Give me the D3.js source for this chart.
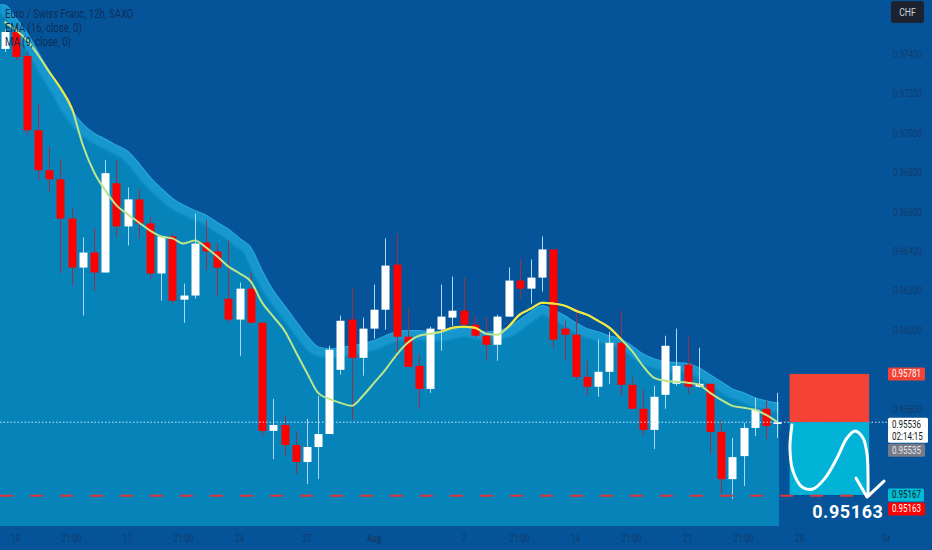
<!DOCTYPE html>
<html>
<head>
<meta charset="utf-8">
<script src="https://cdn.jsdelivr.net/npm/d3@7"></script>
<style>
html, body { margin: 0; padding: 0; background: #05549a; overflow: hidden; }
svg { display: block; }
text { font-family: Roboto, "Liberation Sans", sans-serif; }
</style>
</head>
<body>
<script>
// EUR/CHF 12h bars
var opens = [0.97431,0.97517,0.97395,0.97018,0.96815,0.96769,0.96570,0.96321,0.96397,0.96296,
  0.96749,0.96530,0.96667,0.96545,0.96291,0.96479,0.96158,0.96179,0.96448,0.96403,
  0.96163,0.96057,0.96214,0.96041,0.95492,0.95522,0.95420,0.95334,0.95410,0.95476,
  0.95802,0.96057,0.95863,0.96011,0.96107,0.96336,0.95970,0.95822,0.95705,0.96006,
  0.96067,0.96102,0.96031,0.95975,0.95929,0.96072,0.96255,0.96214,0.96270,0.96413,
  0.96011,0.95980,0.95766,0.95716,0.95792,0.95939,0.95726,0.95604,0.95497,0.95675,
  0.95731,0.95828,0.95716,0.95731,0.95487,0.95247,0.95364,0.95507,0.95604,0.95527];
var highs = [0.97532,0.97548,0.97415,0.97151,0.96937,0.96871,0.96621,0.96474,0.96520,0.96866,
  0.96866,0.96728,0.96723,0.96576,0.96479,0.96494,0.96240,0.96596,0.96560,0.96443,
  0.96459,0.96245,0.96296,0.96041,0.95654,0.95568,0.95487,0.95553,0.95670,0.95924,
  0.96077,0.96219,0.96067,0.96235,0.96469,0.96494,0.96118,0.95883,0.96021,0.96235,
  0.96275,0.96270,0.96077,0.96072,0.96082,0.96321,0.96367,0.96362,0.96479,0.96413,
  0.96051,0.96118,0.95848,0.95955,0.95995,0.96102,0.95766,0.95705,0.95721,0.95975,
  0.96011,0.95970,0.95914,0.95731,0.95548,0.95456,0.95532,0.95660,0.95644,0.95685];
var lows = [0.97415,0.97375,0.96993,0.96764,0.96703,0.96291,0.96230,0.96077,0.96204,0.96296,
  0.96474,0.96433,0.96469,0.96265,0.96153,0.96138,0.96041,0.96163,0.96306,0.96179,
  0.96041,0.95873,0.96041,0.95466,0.95349,0.95364,0.95273,0.95222,0.95247,0.95476,
  0.95777,0.95548,0.95772,0.95960,0.96006,0.95863,0.95817,0.95604,0.95685,0.95899,
  0.96026,0.96026,0.95965,0.95848,0.95848,0.96072,0.96163,0.96138,0.96199,0.95909,
  0.95848,0.95751,0.95670,0.95665,0.95731,0.95670,0.95604,0.95466,0.95400,0.95604,
  0.95721,0.95680,0.95710,0.95375,0.95176,0.95146,0.95212,0.95466,0.95451,0.95456];
var closes = [0.97517,0.97390,0.97018,0.96815,0.96769,0.96570,0.96321,0.96397,0.96296,0.96800,
  0.96530,0.96667,0.96545,0.96291,0.96479,0.96153,0.96179,0.96443,0.96403,0.96321,
  0.96057,0.96214,0.96041,0.95492,0.95522,0.95420,0.95334,0.95410,0.95476,0.95904,
  0.96051,0.95863,0.96011,0.96107,0.96331,0.95970,0.95817,0.95705,0.96011,0.96072,
  0.96102,0.96031,0.95975,0.95929,0.96072,0.96255,0.96214,0.96270,0.96413,0.95955,
  0.95980,0.95766,0.95716,0.95792,0.95939,0.95726,0.95604,0.95497,0.95665,0.95924,
  0.95822,0.95716,0.95731,0.95487,0.95247,0.95359,0.95507,0.95599,0.95517,0.95536];

// EMA cloud upper edge
var bandTop = [0.97654,0.97588,0.97512,0.97415,0.97313,0.97222,0.97120,0.97049,0.97003,0.96973,
  0.96942,0.96911,0.96850,0.96779,0.96723,0.96672,0.96637,0.96611,0.96586,0.96550,
  0.96515,0.96469,0.96423,0.96306,0.96204,0.96128,0.96051,0.95975,0.95919,0.95909,
  0.95914,0.95924,0.95934,0.95950,0.95975,0.95995,0.96001,0.96001,0.95995,0.95995,
  0.96006,0.96016,0.96006,0.95995,0.96001,0.96016,0.96056,0.96097,0.96128,0.96107,
  0.96077,0.96041,0.96011,0.95995,0.95975,0.95960,0.95924,0.95883,0.95858,0.95843,
  0.95838,0.95833,0.95812,0.95777,0.95741,0.95705,0.95685,0.95660,0.95644,0.95634];
// MA (9, close)
var ma9 = [0.97568,0.97527,0.97476,0.97400,0.97313,0.97232,0.97130,0.96942,0.96805,0.96713,
  0.96637,0.96591,0.96550,0.96509,0.96479,0.96469,0.96443,0.96459,0.96423,0.96377,
  0.96326,0.96291,0.96250,0.96143,0.96072,0.96001,0.95894,0.95787,0.95685,0.95654,
  0.95634,0.95619,0.95670,0.95736,0.95802,0.95878,0.95939,0.95975,0.95985,0.95995,
  0.96016,0.96021,0.96016,0.95985,0.95980,0.96021,0.96082,0.96112,0.96143,0.96138,
  0.96128,0.96102,0.96082,0.96051,0.96016,0.95960,0.95899,0.95822,0.95761,0.95746,
  0.95741,0.95736,0.95726,0.95685,0.95649,0.95619,0.95609,0.95599,0.95573,0.95537];

var timeTicks = [1, 6, 11, 16, 21, 27, 33, 41, 46, 51, 56, 61, 66, 71, 79];
var timeLabels = ["10","21:00","17","21:00","24","27","Aug","7","21:00","14","21:00","21","21:00","28","Sep"];
var priceTicks = [0.952,0.954,0.956,0.958,0.960,0.962,0.964,0.966,0.968,0.970,0.972,0.974,0.976];
var legendLines = ["Euro / Swiss Franc, 12h, SAXO", "EMA (16, close, 0)", "MA (9, close, 0)"];

// short position tool
var entryPrice = 0.95536, stopPrice = 0.95781, targetPrice = 0.95167, rayPrice = 0.95163;
var boxFrom = 70.1, boxTo = 77.2;
var countdown = "02:14:15";
var prevClose = 0.95535;

// hand drawn wave + arrow (bar index, price)
var noteIdx = [70.31,70.13,70.40,71.21,72.19,73.26,74.33,75.22,75.94,76.65,77.01,77.10,77.10];
var notePrice = [0.95522,0.95405,0.95288,0.95207,0.95197,0.95252,0.95354,0.95456,0.95492,0.95456,0.95375,0.95252,0.95161];
var arrowIdx = [76.03, 77.01, 78.53];
var arrowPrice = [0.95252, 0.95156, 0.95237];

var W = 932, H = 550;
var paneBottom = 526, axisX = 888;

var x = d3.scaleLinear().domain([0, 69]).range([4.5, 777.3]);
var y = d3.scaleLinear().domain([0.974, 0.952]).range([55, 55 + 0.022 * 19700]);

var svg = d3.select("body").append("svg").attr("width", W).attr("height", H);
var defs = svg.append("defs");

svg.append("rect").attr("width", W).attr("height", H).attr("fill", "#05549a");

var bandPts = bandTop.map(function(v, i) { return {i: i, v: v}; });
bandPts.unshift({i: -0.4, v: bandTop[0]});
bandPts.push({i: 69.15, v: bandTop[69]});

var area = d3.area()
    .x(function(d) { return x(d.i); })
    .y0(paneBottom)
    .y1(function(d) { return y(d.v); })
    .curve(d3.curveMonotoneX);
var above = d3.area()
    .x(function(d) { return x(d.i); })
    .y0(0)
    .y1(function(d) { return y(d.v); })
    .curve(d3.curveMonotoneX);
var edge = d3.line()
    .x(function(d) { return x(d.i); })
    .y(function(d) { return y(d.v); })
    .curve(d3.curveMonotoneX);

defs.append("clipPath").attr("id", "inCloud").append("path").attr("d", area(bandPts));
defs.append("clipPath").attr("id", "overCloud").append("path").attr("d", above(bandPts));
defs.append("filter").attr("id", "soft").attr("x", "-5%").attr("y", "-5%").attr("width", "110%").attr("height", "110%")
  .append("feGaussianBlur").attr("stdDeviation", 1.2);
defs.append("clipPath").attr("id", "timeClip").append("rect")
  .attr("x", 0).attr("y", paneBottom).attr("width", 890).attr("height", H - paneBottom);

svg.append("path").attr("d", area(bandPts)).attr("fill", "#0684ba");
// lighter strip just under the cloud edge
svg.append("g").attr("clip-path", "url(#inCloud)")
  .append("path").attr("d", edge(bandPts))
  .attr("fill", "none").attr("stroke", "#1598cf").attr("stroke-width", 18)
  .attr("filter", "url(#soft)");
svg.append("path").attr("d", edge(bandPts))
  .attr("fill", "none").attr("stroke", "#27a4da").attr("stroke-width", 1.2);

// candles
var bars = d3.range(opens.length).map(function(i) {
  return {i: i, o: opens[i], h: highs[i], l: lows[i], c: closes[i]};
});
var gBars = svg.append("g");
gBars.selectAll("line").data(bars).enter().append("line")
  .attr("x1", function(d) { return Math.round(x(d.i)) + 0.5; })
  .attr("x2", function(d) { return Math.round(x(d.i)) + 0.5; })
  .attr("y1", function(d) { return y(d.h); })
  .attr("y2", function(d) { return y(d.l); })
  .attr("stroke", function(d) { return d.c >= d.o ? "#a9daf5" : "#9a2f45"; })
  .attr("stroke-width", 1);
gBars.selectAll("rect").data(bars).enter().append("rect")
  .attr("x", function(d) { return Math.round(x(d.i)) - 3.5; })
  .attr("width", 8)
  .attr("y", function(d) { return y(Math.max(d.o, d.c)); })
  .attr("height", function(d) { return Math.max(1.5, Math.abs(y(d.o) - y(d.c))); })
  .attr("fill", function(d) { return d.c >= d.o ? "#ffffff" : "#ff0000"; });

// MA line: green inside the cloud, yellow above it
var maLine = d3.line()
  .x(function(d, i) { return x(i); })
  .y(function(d) { return y(d); })
  .curve(d3.curveMonotoneX);
svg.append("path").attr("d", maLine(ma9))
  .attr("fill", "none").attr("stroke", "#bde58c").attr("stroke-width", 2);
svg.append("g").attr("clip-path", "url(#overCloud)")
  .append("path").attr("d", maLine(ma9))
  .attr("fill", "none").attr("stroke", "#f2e83c").attr("stroke-width", 2);

// last price line
svg.append("line")
  .attr("x1", 0).attr("x2", axisX)
  .attr("y1", y(entryPrice)).attr("y2", y(entryPrice))
  .attr("stroke", "#cde9fb").attr("stroke-width", 1).attr("stroke-dasharray", "1.5,2");

// position box
svg.append("rect")
  .attr("x", x(boxFrom)).attr("width", x(boxTo) - x(boxFrom))
  .attr("y", y(stopPrice)).attr("height", y(entryPrice) - y(stopPrice))
  .attr("fill", "#f44336");
svg.append("rect")
  .attr("x", x(boxFrom)).attr("width", x(boxTo) - x(boxFrom))
  .attr("y", y(entryPrice)).attr("height", y(targetPrice) - y(entryPrice))
  .attr("fill", "#00b3d6");

// horizontal ray
svg.append("line")
  .attr("x1", 0).attr("x2", x(77.4))
  .attr("y1", y(rayPrice)).attr("y2", y(rayPrice))
  .attr("stroke", "#e0353d").attr("stroke-width", 2).attr("stroke-dasharray", "13,17");

// wave and arrow
var noteLine = d3.line()
  .x(function(d) { return x(d[0]); })
  .y(function(d) { return y(d[1]); })
  .curve(d3.curveCatmullRom);
svg.append("path")
  .attr("d", noteLine(d3.zip(noteIdx, notePrice)))
  .attr("fill", "none").attr("stroke", "#ffffff").attr("stroke-width", 3).attr("stroke-linecap", "round");
svg.append("path")
  .attr("d", d3.line().x(function(d) { return x(d[0]); }).y(function(d) { return y(d[1]); })(d3.zip(arrowIdx, arrowPrice)))
  .attr("fill", "none").attr("stroke", "#ffffff").attr("stroke-width", 3)
  .attr("stroke-linecap", "round").attr("stroke-linejoin", "round");

svg.append("text")
  .attr("x", x(75.3)).attr("y", y(rayPrice) + 22)
  .attr("text-anchor", "middle")
  .attr("fill", "#ffffff").attr("font-size", 18).attr("font-weight", "bold")
  .attr("letter-spacing", 0.6)
  .text(d3.format(".5f")(rayPrice));

function condense(sel, k) {
  sel.each(function() {
    var w = this.getComputedTextLength();
    d3.select(this).attr("textLength", w * k).attr("lengthAdjust", "spacingAndGlyphs");
  });
}

// legend
var leg = svg.append("g").selectAll("text").data(legendLines).enter().append("text")
  .attr("x", 5).attr("y", function(d, i) { return 18 + i * 14; })
  .attr("fill", "#0d2e57").attr("font-size", 12)
  .text(function(d) { return d; });
condense(leg, 0.8);

// time axis
var tl = svg.append("g").attr("clip-path", "url(#timeClip)")
  .selectAll("text").data(timeTicks).enter().append("text")
  .attr("x", function(d) { return x(d); })
  .attr("y", 542)
  .attr("text-anchor", "middle")
  .attr("fill", "#123b68").attr("font-size", 11)
  .attr("font-weight", function(d, i) { return timeLabels[i] === "Aug" ? "bold" : "normal"; })
  .text(function(d, i) { return timeLabels[i]; });
condense(tl, 0.72);

// price badges, pushed apart like the price scale does
var badges = [
  {v: stopPrice, fill: "#f44336", color: "#ffffff", h: 13, w: 37},
  {v: entryPrice, fill: "#ffffff", color: "#131722", h: 25, w: 40, sub: countdown},
  {v: prevClose, fill: "#787b86", color: "#e3e6ec", h: 13, w: 37},
  {v: targetPrice, fill: "#00bcd4", color: "#131722", h: 13, w: 36},
  {v: rayPrice, fill: "#ff0000", color: "#ffffff", h: 13, w: 37}
];
var lastBottom = -Infinity;
badges.forEach(function(b) {
  var top = y(b.v) - (b.sub ? 4.5 : 6.5);
  if (top < lastBottom + 1) top = lastBottom + 1;
  b.top = top;
  lastBottom = top + b.h;
});

// price axis: tick labels that would sit under a badge or the CHF button are hidden
var fmt = d3.format(".5f");
var blocked = badges.map(function(b) { return [b.top - 3, b.top + b.h + 4]; }).concat([[0, 26]]);
var shownTicks = priceTicks.filter(function(p) {
  var ty = y(p);
  return !blocked.some(function(r) { return ty > r[0] && ty < r[1]; });
});
var pl = svg.append("g").selectAll("text").data(shownTicks).enter().append("text")
  .attr("x", 893).attr("y", function(d) { return y(d) + 3; })
  .attr("fill", "#123b68").attr("font-size", 10.5)
  .text(function(d) { return fmt(d); });
condense(pl, 0.76);

var gB = svg.append("g").selectAll("g").data(badges).enter().append("g");
gB.append("rect")
  .attr("x", axisX).attr("y", function(d) { return d.top; })
  .attr("width", function(d) { return d.w; }).attr("height", function(d) { return d.h; })
  .attr("rx", 1.5).attr("fill", function(d) { return d.fill; });
var bt = gB.append("text")
  .attr("x", 892).attr("y", function(d) { return d.top + 10; })
  .attr("fill", function(d) { return d.color; }).attr("font-size", 10.5)
  .text(function(d) { return fmt(d.v); });
condense(bt, 0.76);
var st = gB.filter(function(d) { return d.sub; }).append("text")
  .attr("x", 892).attr("y", function(d) { return d.top + 22; })
  .attr("fill", "#131722").attr("font-size", 10)
  .text(function(d) { return d.sub; });
condense(st, 0.8);

// currency button
svg.append("rect").attr("x", 891).attr("y", 1).attr("width", 33).attr("height", 22)
  .attr("rx", 3).attr("fill", "#1c2230");
var chf = svg.append("text").attr("x", 907.5).attr("y", 16).attr("text-anchor", "middle")
  .attr("fill", "#d1d4dc").attr("font-size", 11).text("CHF");
condense(chf, 0.78);
</script>
</body>
</html>
